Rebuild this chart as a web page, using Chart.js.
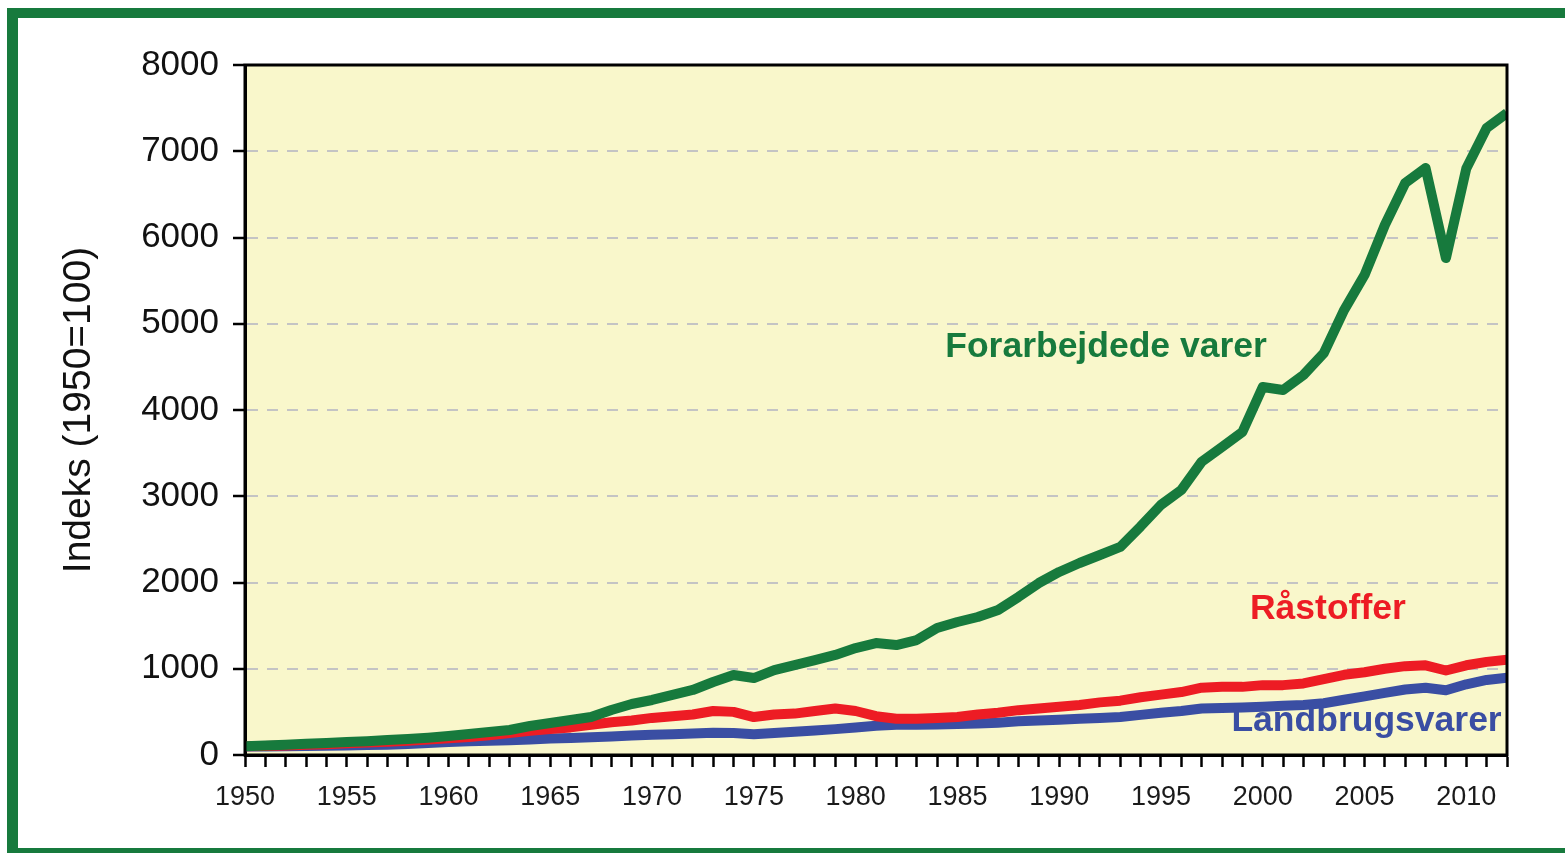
<!DOCTYPE html>
<html>
<head>
<meta charset="utf-8">
<script src="https://cdn.jsdelivr.net/npm/chart.js@4.4.1/dist/chart.umd.min.js"></script>
<style>
  html, body { margin: 0; padding: 0; background: #fff; overflow: hidden; }
  #wrap { position: relative; width: 1565px; height: 853px; }
  #frame {
    position: absolute; left: 7px; top: 8px; width: 1600px; height: 830px;
    border: 10px solid #177a3d; border-left-width: 11px; pointer-events: none;
  }
</style>
</head>
<body>
<div id="wrap">
  <canvas id="myChart" width="1565" height="853"></canvas>
  <div id="frame"></div>
</div>
<script>
var years = [];
for (var yr = 1950; yr <= 2012; yr++) years.push(yr);

// Forarbejdede varer
var forarbejdede = [100, 110, 120, 130, 140, 150, 160, 175, 185, 200, 220, 243, 267, 290, 336, 371, 406, 440, 522, 591,
  638, 696, 754, 846, 927, 892, 985, 1043, 1101, 1160, 1240, 1298, 1275, 1333, 1472, 1542, 1600, 1681, 1832, 1994,
  2122, 2226, 2319, 2412, 2650, 2900, 3072, 3400, 3571, 3745, 4267, 4232, 4406, 4660, 5160, 5565, 6145, 6632, 6806, 5762,
  6800, 7270, 7443];
// Råstoffer
var raastoffer = [100, 105, 110, 118, 125, 135, 145, 155, 165, 180, 195, 210, 230, 255, 280, 300, 320, 350, 380, 400,
  430, 450, 470, 510, 500, 440, 470, 480, 510, 540, 510, 450, 420, 420, 430, 440, 470, 490, 520, 540,
  560, 580, 610, 630, 670, 700, 730, 780, 790, 790, 810, 810, 830, 880, 930, 960, 1000, 1030, 1040, 980,
  1040, 1080, 1105];
// Landbrugsvarer
var landbrug = [100, 100, 102, 104, 106, 110, 115, 120, 128, 138, 150, 158, 165, 172, 180, 190, 198, 206, 215, 225,
  235, 242, 250, 258, 255, 240, 255, 270, 285, 300, 320, 340, 350, 350, 355, 360, 365, 375, 390, 400,
  410, 420, 430, 440, 465, 490, 510, 540, 545, 550, 560, 570, 580, 600, 640, 680, 720, 760, 780, 750,
  820, 870, 895];

var yTicks = [0, 1000, 2000, 3000, 4000, 5000, 6000, 7000, 8000];

var seriesNames = ['Forarbejdede varer', 'Råstoffer', 'Landbrugsvarer'];
var seriesColors = ['#177a3d', '#ed1c24', '#3a4ea3'];

// text labels placed in data space
var labelYears = [1992.3, 2003.2, 2005.1];
var labelValues = [4730, 1690, 395];

var FONT = '"Liberation Sans", Arial, sans-serif';

var plotFrame = {
  id: 'plotFrame',
  beforeDraw: function(chart) {
    var a = chart.chartArea, c = chart.ctx;
    c.save();
    c.fillStyle = '#f9f7cb';
    c.fillRect(a.left, a.top, a.right - a.left, a.bottom - a.top);
    c.restore();
  },
  afterDatasetsDraw: function(chart) {
    var c = chart.ctx, xs = chart.scales.x, ys = chart.scales.y;
    c.save();
    c.font = 'bold 35.5px ' + FONT;
    c.textAlign = 'center';
    c.textBaseline = 'middle';
    for (var i = 0; i < seriesNames.length; i++) {
      c.fillStyle = seriesColors[i];
      c.fillText(seriesNames[i], xs.getPixelForValue(labelYears[i]), ys.getPixelForValue(labelValues[i]));
    }
    c.restore();
  },
  afterDraw: function(chart) {
    var a = chart.chartArea, c = chart.ctx;
    c.save();
    c.strokeStyle = '#000';
    c.lineWidth = 3;
    c.strokeRect(a.left, a.top, a.right - a.left, a.bottom - a.top);
    c.restore();
  }
};

var ctx = document.getElementById('myChart').getContext('2d');
var chart = new Chart(ctx, {
  type: 'line',
  data: {
    labels: years,
    datasets: [
      { label: seriesNames[0], data: forarbejdede, borderColor: seriesColors[0], backgroundColor: seriesColors[0] },
      { label: seriesNames[1], data: raastoffer, borderColor: seriesColors[1], backgroundColor: seriesColors[1] },
      { label: seriesNames[2], data: landbrug, borderColor: seriesColors[2], backgroundColor: seriesColors[2] }
    ]
  },
  options: {
    responsive: false,
    animation: false,
    layout: { padding: { top: 65, right: 58, left: 20, bottom: 0 } },
    elements: {
      line: { borderWidth: 10, tension: 0, borderJoinStyle: 'round', borderCapStyle: 'butt' },
      point: { radius: 0 }
    },
    plugins: { legend: { display: false }, tooltip: { enabled: false } },
    scales: {
      x: {
        type: 'linear',
        min: 1950,
        max: 2012,
        afterFit: function(s) { s.height = 98; },
        grid: { drawOnChartArea: false, drawTicks: true, tickLength: 12, tickColor: '#000', tickWidth: 2.5 },
        border: { color: '#000', width: 3 },
        ticks: {
          stepSize: 1,
          autoSkip: false,
          maxRotation: 0,
          padding: 14,
          color: '#1a1a1a',
          font: { family: FONT, size: 27 },
          callback: function(v) { return v % 5 === 0 ? String(v) : ''; }
        }
      },
      y: {
        min: 0,
        max: 8000,
        afterFit: function(s) { s.width = 225; },
        afterBuildTicks: function(s) { s.ticks = yTicks.map(function(v) { return { value: v }; }); },
        grid: { color: '#c4c4c4', lineWidth: 2, tickLength: 12, tickColor: '#000', tickWidth: 2.5 },
        border: { color: '#000', width: 3, dash: [11, 9] },
        ticks: {
          padding: 14,
          color: '#111',
          font: { family: FONT, size: 35 },
          callback: function(v) { return String(v); }
        },
        title: {
          display: true,
          text: 'Indeks (1950=100)',
          color: '#111',
          font: { family: FONT, size: 39 },
          padding: { top: 36, bottom: 0 }
        }
      }
    }
  },
  plugins: [plotFrame]
});
</script>
</body>
</html>
